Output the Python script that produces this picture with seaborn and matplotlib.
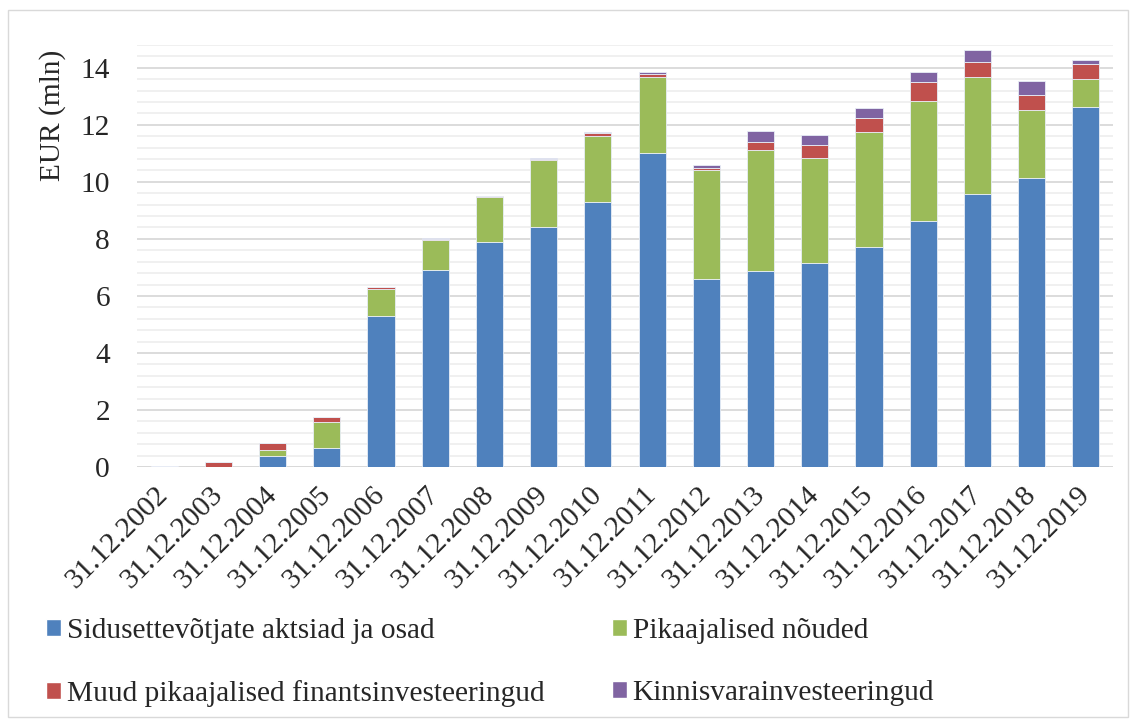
import numpy as np
import pandas as pd
import matplotlib
matplotlib.use("Agg")
import matplotlib.pyplot as plt
import matplotlib.transforms as mtrans
import seaborn as sns
from matplotlib.patches import Patch, Rectangle
from matplotlib.ticker import MultipleLocator

dates = ["31.12.2002", "31.12.2003", "31.12.2004", "31.12.2005", "31.12.2006",
         "31.12.2007", "31.12.2008", "31.12.2009", "31.12.2010", "31.12.2011",
         "31.12.2012", "31.12.2013", "31.12.2014", "31.12.2015", "31.12.2016",
         "31.12.2017", "31.12.2018", "31.12.2019"]

sidus = [0.0, 0.0, 0.40, 0.67, 5.30, 6.92, 7.90, 8.41, 9.31, 11.02,
         6.60, 6.86, 7.16, 7.72, 8.63, 9.59, 10.12, 12.61]
nouded = [0.0, 0.0, 0.18, 0.90, 0.95, 1.05, 1.57, 2.35, 2.31, 2.67,
          3.80, 4.26, 3.69, 4.02, 4.20, 4.09, 2.40, 1.00]
muud = [0.04, 0.18, 0.25, 0.20, 0.06, 0.03, 0.02, 0.03, 0.10, 0.09,
        0.09, 0.29, 0.44, 0.50, 0.67, 0.54, 0.51, 0.52]
kinnis = [0.0, 0.0, 0.0, 0.0, 0.01, 0.03, 0.02, 0.03, 0.03, 0.07,
          0.09, 0.38, 0.35, 0.35, 0.35, 0.42, 0.49, 0.16]

series_names = ["Sidusettevõtjate aktsiad ja osad", "Pikaajalised nõuded",
                "Muud pikaajalised finantsinvesteeringud", "Kinnisvarainvesteeringud"]
series_vals = [sidus, nouded, muud, kinnis]
colors = ["#4F81BD", "#9BBB59", "#C0504D", "#8064A2"]

FS = 21.2

sns.set_theme(style="white")
plt.rcParams["font.family"] = ["Liberation Serif", "DejaVu Serif"]

fig = plt.figure(figsize=(11.31, 7.19), dpi=100)
ax = fig.add_axes([137 / 1131, 1 - 467 / 719, (1113 - 137) / 1131, (467 - 45) / 719])

bottom = np.zeros(len(dates))
for name, vals, col in zip(series_names, series_vals, colors):
    df = pd.DataFrame({"date": dates, "value": vals})
    sns.barplot(data=df, x="date", y="value", color=col, bottom=bottom.copy(),
                width=0.5, saturation=1, ax=ax, edgecolor="#e8eef7", linewidth=0.6,
                zorder=3)
    bottom += np.array(vals)

ax.set_ylim(0, 14.8)
ax.set_xlim(-0.5, len(dates) - 0.5)
ax.yaxis.set_major_locator(MultipleLocator(2))
ax.yaxis.set_minor_locator(MultipleLocator(0.4))
ax.grid(which="major", axis="y", color="#d9d9d9", linewidth=1.3, zorder=0)
ax.grid(which="minor", axis="y", color="#eeeeee", linewidth=1.2, zorder=0)
ax.set_axisbelow(True)
for s in ax.spines.values():
    s.set_visible(False)
ax.axhline(0, color="#d9d9d9", linewidth=1.3, zorder=2)

ax.set_xlabel("")
ax.set_ylabel("")
ax.tick_params(axis="y", which="both", length=0, pad=19.5, labelsize=FS)
ax.tick_params(axis="x", length=0, pad=6, labelsize=FS)
offset = mtrans.ScaledTranslation(-9 / 100, -6 / 100, fig.dpi_scale_trans)
for lab in ax.get_xticklabels():
    lab.set_rotation(45)
    lab.set_ha("right")
    lab.set_rotation_mode("anchor")
    lab.set_transform(lab.get_transform() + offset)

fig.text(53 / 1131, 1 - 115 / 719, "EUR (mln)", rotation=90, ha="center", va="center",
         fontsize=FS)

handles = [Patch(facecolor=colors[0], label=series_names[0]),
           Patch(facecolor=colors[2], label=series_names[2]),
           Patch(facecolor=colors[1], label=series_names[1]),
           Patch(facecolor=colors[3], label=series_names[3])]
fig.legend(handles=handles, ncol=2, loc="upper left",
           bbox_to_anchor=(46 / 1131, 1 - 618 / 719), frameon=False, fontsize=FS,
           handlelength=0.5, handleheight=0.5, handletextpad=0.2,
           columnspacing=2.3, labelspacing=1.22, borderpad=0, borderaxespad=0)

fig.patches.append(Rectangle((8 / 1131, 2 / 719), 1120 / 1131, 707 / 719,
                             transform=fig.transFigure, fill=False,
                             edgecolor="#d9d9d9", linewidth=1.0))

fig.savefig("out.png", dpi=100)
